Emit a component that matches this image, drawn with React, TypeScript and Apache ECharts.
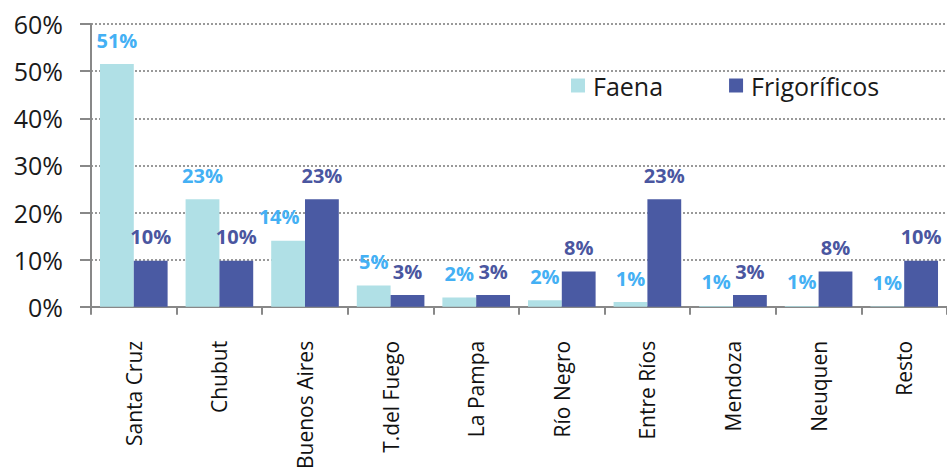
import React, { useEffect, useRef } from "react";
import * as echarts from "echarts";

const categories = ["Santa Cruz", "Chubut", "Buenos Aires", "T.del Fuego", "La Pampa", "Río Negro", "Entre Ríos", "Mendoza", "Neuquen", "Resto"];
const faena = [51.5, 22.8, 14.0, 4.5, 2.0, 1.4, 1.0, 0.2, 0.2, 0.1];
const frigorificos = [9.8, 9.8, 22.8, 2.5, 2.5, 7.5, 22.8, 2.5, 7.5, 9.8];
const faenaLabels = ["51%", "23%", "14%", "5%", "2%", "2%", "1%", "1%", "1%", "1%"];
const frigLabels = ["10%", "10%", "23%", "3%", "3%", "8%", "23%", "3%", "8%", "10%"];
const yTicks = [0, 10, 20, 30, 40, 50, 60];

const FONT = "'Open Sans', 'Noto Sans', sans-serif";

export default function App() {
  const ref = useRef<HTMLDivElement>(null);
  useEffect(() => {
    if (!ref.current) return;
    const chart = echarts.init(ref.current, null, { renderer: "svg" });
    chart.setOption({
      animation: false,
      backgroundColor: "#ffffff",
      textStyle: { fontFamily: FONT },
      legend: {
        left: 566,
        top: 68,
        itemWidth: 14,
        itemHeight: 14,
        itemGap: 66,
        icon: "rect",
        textStyle: { fontSize: 25, color: "#1a1a1a", fontFamily: FONT, padding: [0, 0, 0, 3] },
        data: ["Faena", "Frigoríficos"],
      },
      grid: { left: 91, top: 24, height: 284, width: 860, containLabel: false },
      xAxis: {
        type: "category",
        data: categories,
        axisLine: { lineStyle: { color: "#888", width: 2 } },
        axisTick: { show: true, length: 8, lineStyle: { color: "#888", width: 2 } },
        axisLabel: { rotate: 90, margin: 34, fontSize: 21, color: "#111", fontFamily: FONT, interval: 0 },
      },
      yAxis: {
        type: "value",
        min: yTicks[0],
        max: yTicks[yTicks.length - 1],
        interval: 10,
        axisLine: { show: true, lineStyle: { color: "#888", width: 2 } },
        axisTick: { show: true, length: 11, lineStyle: { color: "#888", width: 2 } },
        axisLabel: { formatter: "{value}%", fontSize: 25, color: "#1a1a1a", margin: 28, fontFamily: FONT },
        splitLine: { show: true, lineStyle: { color: "#999", width: 2, type: [2, 2] } },
      },
      series: [
        {
          name: "Faena",
          type: "bar",
          data: faena.map((v, i) => ({
            value: v,
            label: i === 2 ? { offset: [-9, 0] } : undefined,
          })),
          barGap: "0%",
          barCategoryGap: "21%",
          itemStyle: { color: "#b0e0e6" },
          label: {
            show: true,
            position: "top",
            distance: 14,
            fontSize: 20,
            fontWeight: "bold",
            color: "#44b0f4",
            fontFamily: FONT,
            formatter: (p: any) => faenaLabels[p.dataIndex],
          },
        },
        {
          name: "Frigoríficos",
          type: "bar",
          data: frigorificos,
          barGap: "0%",
          barCategoryGap: "21%",
          itemStyle: { color: "#4a5aa3" },
          label: {
            show: true,
            position: "top",
            distance: 14,
            fontSize: 20,
            fontWeight: "bold",
            color: "#4a56a0",
            fontFamily: FONT,
            formatter: (p: any) => frigLabels[p.dataIndex],
          },
        },
      ],
    });
    return () => chart.dispose();
  }, []);
  return <div ref={ref} style={{ position: "absolute", left: 0, top: 0, width: 947, height: 472 }} />;
}
